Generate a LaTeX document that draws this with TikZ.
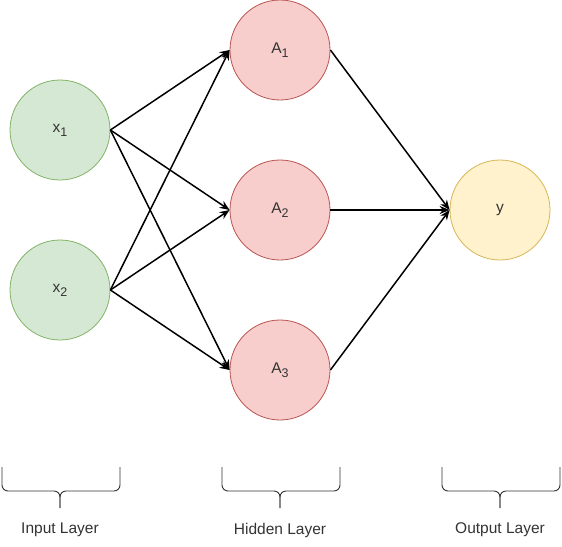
\documentclass[tikz,border=0pt]{standalone}
\usepackage{fontspec}
\setmainfont{Liberation Sans}
\usetikzlibrary{arrows.meta}
\definecolor{ingreen}{HTML}{D5E8D4}
\definecolor{ingreenline}{HTML}{82B366}
\definecolor{hidred}{HTML}{F8CECC}
\definecolor{hidredline}{HTML}{B85450}
\definecolor{outyellow}{HTML}{FFF2CC}
\definecolor{outyellowline}{HTML}{D6B656}
\newcommand{\nsub}[1]{\raisebox{-4pt}{\fontsize{12.5}{14}\selectfont #1}}
\begin{document}
\begin{tikzpicture}[x=1pt,y=-1pt,
    neuron/.style={circle, minimum size=100pt, inner sep=0pt, line width=0.8pt, font=\fontsize{15.5}{18}\selectfont, text=black!80},
    inneuron/.style={neuron, fill=ingreen, draw=ingreenline},
    hidneuron/.style={neuron, fill=hidred, draw=hidredline},
    outneuron/.style={neuron, fill=outyellow, draw=outyellowline},
    link/.style={-{Stealth[length=10pt,width=8pt]}, line width=1.5pt},
    layerbrace/.style={rounded corners=6pt, line width=0.9pt, black!80},
    layerlabel/.style={font=\fontsize{15.5}{18}\selectfont, text=black!80}]
    \useasboundingbox (0,0) rectangle (562,546);
    \node[inneuron] (x1) at (60,130) {x\nsub{1}};
    \node[inneuron] (x2) at (60,290) {x\nsub{2}};
    \node[hidneuron] (A1) at (280,50) {A\nsub{1}};
    \node[hidneuron] (A2) at (280,210) {A\nsub{2}};
    \node[hidneuron] (A3) at (280,370) {A\nsub{3}};
    \node[outneuron] (y) at (500,210) {y};
    \foreach \i in {x1,x2}
        \foreach \j in {A1,A2,A3}
            \draw[link] (\i.east) -- (\j.west);
    \foreach \j in {A1,A2,A3}
        \draw[link] (\j.east) -- (y.west);
    \foreach \xm/\name/\txt in {60/inbrace/Input Layer,280/hidbrace/Hidden Layer,500/outbrace/Output Layer}
    {
        \coordinate (\name) at (\xm,508);
        \draw[layerbrace] (\xm-58,467) -- (\xm-58,491) -- (\xm,491) -- (\name);
        \draw[layerbrace] (\xm+60,467) -- (\xm+60,491) -- (\xm,491) -- (\name);
        \node[layerlabel] at (\xm,530) {\txt};
    }
\end{tikzpicture}
\end{document}
